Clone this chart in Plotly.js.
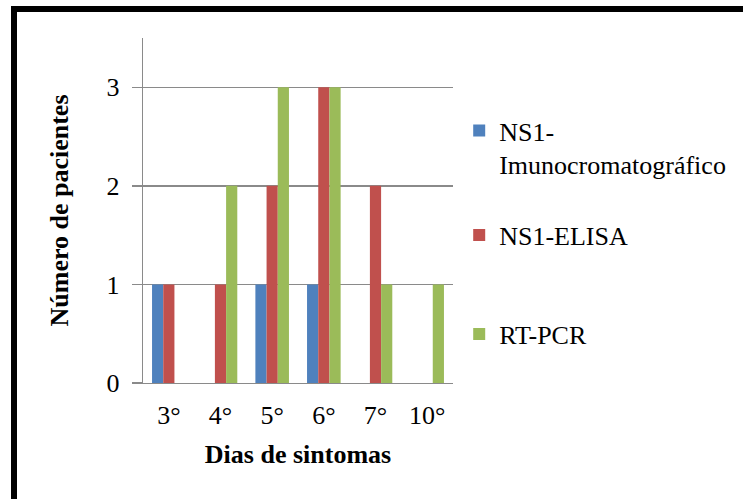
<!DOCTYPE html>
<html>
<head>
<meta charset="utf-8">
<script src="https://cdn.plot.ly/plotly-3.0.1.min.js"></script>
<style>
  html, body { margin: 0; padding: 0; background: #fff; }
  #wrap { position: relative; width: 743px; height: 499px; overflow: hidden; }
  #chart { position: absolute; left: 0; top: 0; width: 743px; height: 499px; }
  /* outer frame: heavy black top/left edge, thin grey bottom edge */
  #frame {
    position: absolute; left: 11px; top: 6px; width: 800px; height: 487px;
    box-sizing: content-box;
    border-top: 6px solid #000; border-left: 6px solid #000;
    border-bottom: 2px solid #8a8a8a; pointer-events: none;
  }
  .legendtext, .xtick text { font-family: "Liberation Serif", "Times New Roman", serif !important; }
</style>
</head>
<body>
<div id="wrap">
  <div id="chart"></div>
  <div id="frame"></div>
</div>
<script>
// Days since symptom onset
const dias = ['3°', '4°', '5°', '6°', '7°', '10°'];

// Number of patients positive by each method
const imunocromatografico = [1, 0, 1, 1, 0, 0];
const elisa = [1, 1, 2, 3, 2, 0];
const rtpcr = [0, 2, 3, 3, 1, 1];

const seriesNames = ['NS1-<br>Imunocromatográfico', 'NS1-ELISA', 'RT-PCR'];
const seriesColors = ['#4F81BD', '#C0504D', '#9BBB59'];

const serif = 'Times New Roman';
const grey = '#8a8a8a';

const traces = [imunocromatografico, elisa, rtpcr].map((vals, i) => ({
  type: 'bar',
  x: dias,
  y: vals,
  name: seriesNames[i],
  marker: { color: seriesColors[i], line: { width: 0 } },
  legend: i === 0 ? 'legend' : 'legend' + (i + 1),
  hoverinfo: 'x+y+name'
}));

function legendAt(y) {
  return {
    x: 1.02, y: y,
    xanchor: 'left', yanchor: 'top',
    font: { family: serif, size: 26, color: '#000' },
    bgcolor: 'rgba(0,0,0,0)', borderwidth: 0,
    valign: 'top', itemclick: false, itemdoubleclick: false
  };
}

const layout = {
  width: 743, height: 499,
  margin: { l: 143, r: 288, t: 38, b: 116, pad: 0 },
  paper_bgcolor: '#fff', plot_bgcolor: '#fff',
  font: { family: serif, size: 26, color: '#000' },
  barmode: 'group',
  bargap: 0.35,
  bargroupgap: 0,
  showlegend: true,
  xaxis: {
    type: 'category',
    showline: true, linecolor: grey, linewidth: 1.3,
    ticks: '', showgrid: false, zeroline: false,
    ticklabelstandoff: 8,
    tickfont: { family: serif, size: 26, color: '#000' },
    title: { text: 'Dias de sintomas', standoff: 16,
             font: { family: serif, size: 26, weight: 'bold', color: '#000' } },
    automargin: false
  },
  yaxis: {
    range: [0, 3.5], dtick: 1, tick0: 0,
    showgrid: true, gridcolor: grey, gridwidth: 1.3,
    showline: true, linecolor: grey, linewidth: 1.3,
    ticks: 'outside', ticklen: 10, tickcolor: grey, tickwidth: 1.3,
    zeroline: false,
    ticklabelstandoff: 7,
    tickfont: { family: serif, size: 26, color: '#000' },
    title: { text: 'Número de pacientes', standoff: 30,
             font: { family: serif, size: 26, weight: 'bold', color: '#000' } },
    automargin: false
  },
  legend: legendAt(0.80),
  legend2: legendAt(0.497),
  legend3: legendAt(0.21)
};

Plotly.newPlot('chart', traces, layout, { displayModeBar: false, staticPlot: true });
</script>
</body>
</html>
